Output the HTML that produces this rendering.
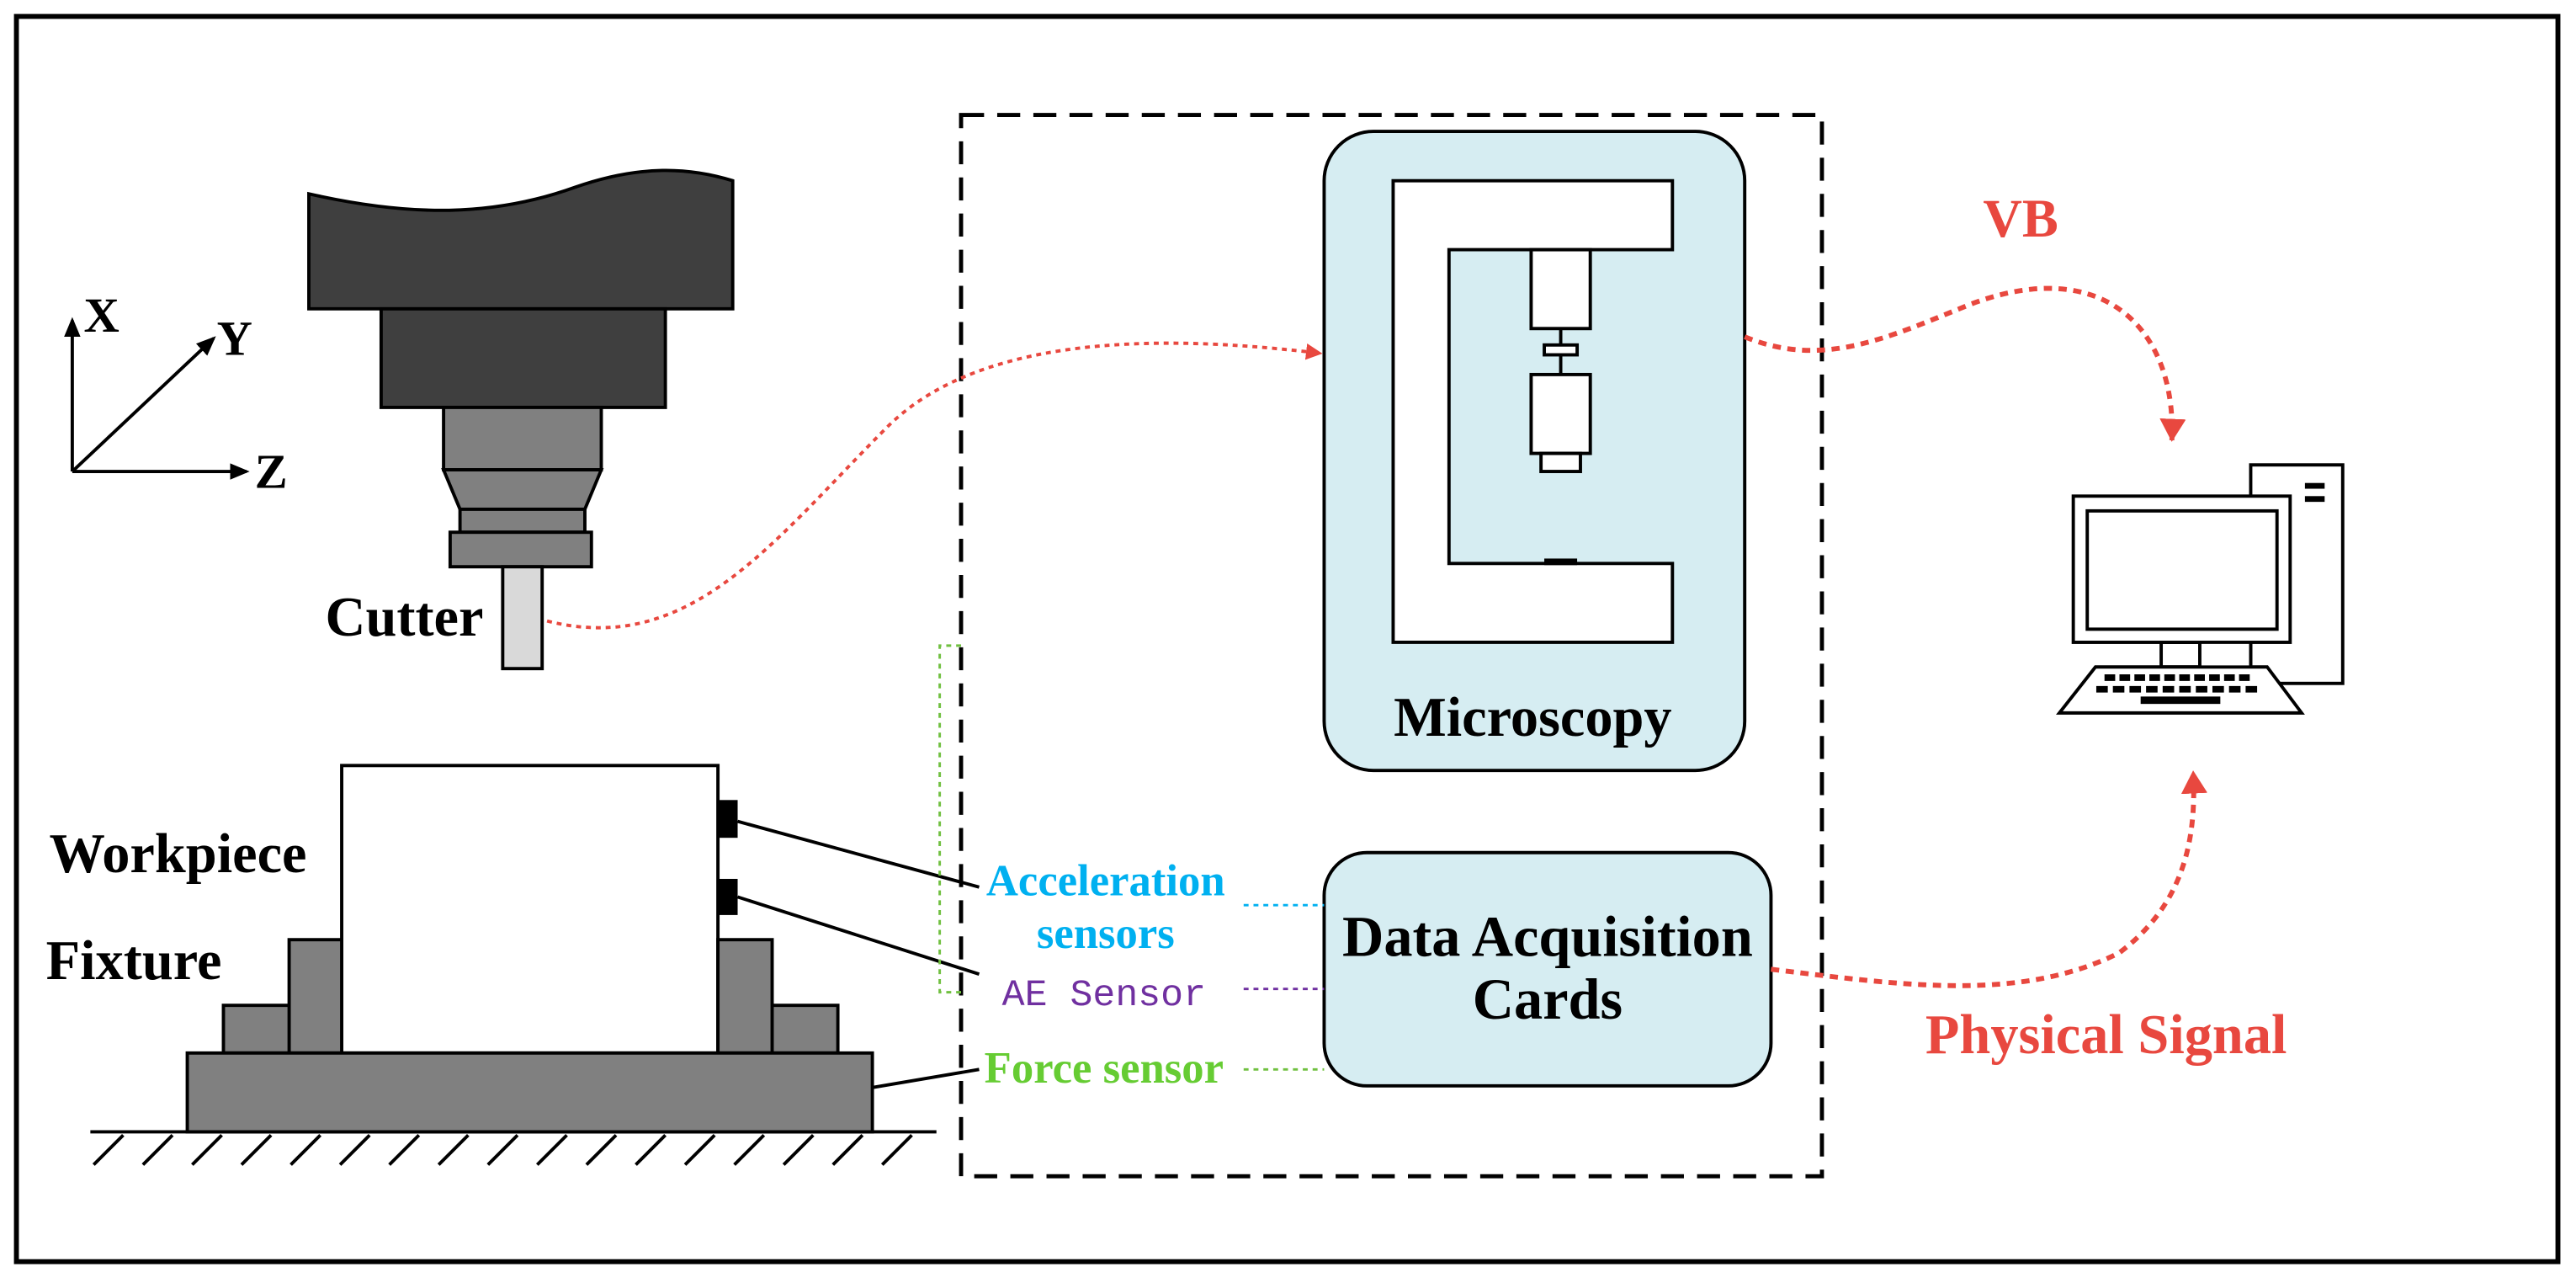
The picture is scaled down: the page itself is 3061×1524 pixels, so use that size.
<!DOCTYPE html>
<html><head><style>html,body{margin:0;padding:0;background:#fff}svg{display:block}</style></head>
<body>
<svg width="3061" height="1524" viewBox="0 0 1568 781" preserveAspectRatio="none" xmlns="http://www.w3.org/2000/svg">
<defs>
<marker id="ar" markerWidth="10" markerHeight="10" refX="8" refY="5" orient="auto" markerUnits="userSpaceOnUse"><path d="M0,0 L10,5 L0,10 z" fill="#e8483f"/></marker>
<marker id="ab" markerWidth="12" markerHeight="12" refX="10" refY="6" orient="auto" markerUnits="userSpaceOnUse"><path d="M0,1 L12,6 L0,11 z" fill="#000"/></marker>
<marker id="ar2" markerWidth="16" markerHeight="16" refX="13" refY="8" orient="auto" markerUnits="userSpaceOnUse"><path d="M0,0 L14,8 L0,16 z" fill="#e8483f"/></marker>
</defs>
<rect x="10" y="10" width="1547" height="758" fill="#fff" stroke="#000" stroke-width="3"/>
<g stroke="#000" stroke-width="2">
<path d="M188,118 C250,132 300,132 350,114 C390,100 420,102 446,110 L446,188 L188,188 Z" fill="#3f3f3f"/>
<rect x="232" y="188" width="173" height="60" fill="#3f3f3f"/>
<rect x="270" y="248" width="96" height="38" fill="#808080"/>
<path d="M270,286 L366,286 L356,310 L280,310 Z" fill="#808080"/>
<rect x="280" y="310" width="76" height="14" fill="#808080"/>
<rect x="274" y="324" width="86" height="21" fill="#808080"/>
<rect x="306" y="345" width="24" height="62" fill="#d9d9d9"/>
<rect x="208" y="466" width="229" height="175" fill="#fff"/>
<path d="M176,641 L176,572 L208,572 L208,641 Z M136,641 L136,612 L176,612 L176,641 Z" fill="#808080"/>
<path d="M437,572 L470,572 L470,641 L437,641 Z M470,612 L510,612 L510,641 L470,641 Z" fill="#808080"/>
<rect x="114" y="641" width="417" height="48" fill="#808080"/>
<line x1="55" y1="689" x2="570" y2="689"/>
</g>
<g stroke="#000" stroke-width="2">
<path d="M75,691 l-18,18 M105,691 l-18,18 M135,691 l-18,18 M165,691 l-18,18 M195,691 l-18,18 M225,691 l-18,18 M255,691 l-18,18 M285,691 l-18,18 M315,691 l-18,18 M345,691 l-18,18 M375,691 l-18,18 M405,691 l-18,18 M435,691 l-18,18 M465,691 l-18,18 M495,691 l-18,18 M525,691 l-18,18 M555,691 l-18,18"/>
<line x1="44" y1="287" x2="44" y2="195" marker-end="url(#ab)"/>
<line x1="44" y1="287" x2="150" y2="287" marker-end="url(#ab)"/>
<line x1="44" y1="287" x2="130" y2="206" marker-end="url(#ab)"/>
<line x1="449" y1="500" x2="596" y2="540"/>
<line x1="449" y1="546" x2="596" y2="593"/>
<line x1="531" y1="662" x2="596" y2="651"/>
</g>
<rect x="437" y="487" width="12" height="23" fill="#000"/>
<rect x="437" y="535" width="12" height="22" fill="#000"/>
<rect x="585" y="70" width="524" height="646" fill="none" stroke="#000" stroke-width="2.5" stroke-dasharray="14,8"/>
<path d="M585,393 L572,393 L572,604 L585,604" fill="none" stroke="#70c040" stroke-width="1.5" stroke-dasharray="3,3"/>
<g stroke="#000" stroke-width="2">
<rect x="806" y="80" width="256" height="389" rx="30" fill="#d6edf2"/>
<path d="M848,110 L1018,110 L1018,152 L882,152 L882,343 L1018,343 L1018,391 L848,391 Z" fill="#fff"/>
<rect x="932" y="152" width="36" height="48" fill="#fff"/>
<line x1="950" y1="200" x2="950" y2="228"/>
<rect x="940" y="210" width="20" height="6" fill="#fff"/>
<rect x="932" y="228" width="36" height="48" fill="#fff"/>
<rect x="938" y="276" width="24" height="11" fill="#fff"/>
<rect x="806" y="519" width="272" height="142" rx="26" fill="#d6edf2"/>
</g>
<rect x="940" y="340" width="20" height="4" fill="#000"/>
<g font-family="Liberation Serif, serif" font-weight="bold" font-size="34" fill="#000">
<text x="198" y="387">Cutter</text>
<text x="30" y="531">Workpiece</text>
<text x="28" y="596">Fixture</text>
<text x="51" y="202" font-size="30">X</text>
<text x="132" y="216" font-size="30">Y</text>
<text x="155" y="297" font-size="30">Z</text>
<text x="933" y="448" text-anchor="middle">Microscopy</text>
<text x="942" y="582" text-anchor="middle" font-size="35">Data Acquisition</text>
<text x="942" y="620" text-anchor="middle" font-size="35">Cards</text>
<text x="673" y="545" text-anchor="middle" font-size="27" fill="#00b0f0">Acceleration</text>
<text x="673" y="577" text-anchor="middle" font-size="27" fill="#00b0f0">sensors</text>
<text x="672" y="659" text-anchor="middle" font-size="27" fill="#66cc33">Force sensor</text>
<text x="1230" y="144" text-anchor="middle" font-size="33" fill="#e8483f">VB</text>
<text x="1282" y="641" text-anchor="middle" font-size="34" fill="#e8483f">Physical Signal</text>
</g>
<text x="672" y="612" text-anchor="middle" font-family="Liberation Mono, monospace" font-size="23" fill="#7030a0">AE Sensor</text>
<g fill="none" stroke-width="1.5" stroke-dasharray="3,3">
<line x1="757" y1="551" x2="806" y2="551" stroke="#00b0f0"/>
<line x1="757" y1="602" x2="806" y2="602" stroke="#7030a0"/>
<line x1="757" y1="651" x2="806" y2="651" stroke="#70c040"/>
</g>
<g fill="none" stroke="#e8483f" stroke-width="2" stroke-dasharray="3,3">
<path d="M333,378 C420,400 470,330 540,260 C600,200 720,205 803,215" marker-end="url(#ar)"/>
<path d="M1062,205 C1110,225 1150,205 1200,185 C1280,155 1325,200 1322,268" stroke-width="3" stroke-dasharray="5,4" marker-end="url(#ar2)"/>
<path d="M1078,590 C1160,600 1230,610 1290,580 C1330,550 1337,510 1335,470" stroke-width="3" stroke-dasharray="5,4" marker-end="url(#ar2)"/>
</g>
<g stroke="#000" stroke-width="2" fill="#fff">
<rect x="1370" y="283" width="56" height="133"/>
<rect x="1315.5" y="391" width="23.5" height="15"/>
<line x1="1339" y1="391" x2="1339" y2="406"/>
<line x1="1370" y1="391" x2="1370" y2="406"/>
<rect x="1262" y="302" width="132" height="89"/>
<rect x="1270.5" y="311" width="115.5" height="72"/>
<path d="M1275.5,406 L1380,406 L1401,434 L1253.5,434 Z"/>
</g>
<rect x="1339" y="392" width="31" height="13" fill="#fff"/>
<line x1="1339" y1="391" x2="1339" y2="406" stroke="#000" stroke-width="2"/>
<line x1="1370" y1="391" x2="1370" y2="406" stroke="#000" stroke-width="2"/>
<rect x="1403" y="294" width="12" height="3.5" fill="#000"/>
<rect x="1403" y="302" width="12" height="3.5" fill="#000"/>
<line x1="1281" y1="412.5" x2="1372" y2="412.5" stroke="#000" stroke-width="4" stroke-dasharray="6.5,2.6"/>
<line x1="1276" y1="419.6" x2="1377" y2="419.6" stroke="#000" stroke-width="4" stroke-dasharray="7,3.1"/>
<rect x="1303" y="424" width="48.5" height="4.5" fill="#000"/>
</svg>
</body></html>
